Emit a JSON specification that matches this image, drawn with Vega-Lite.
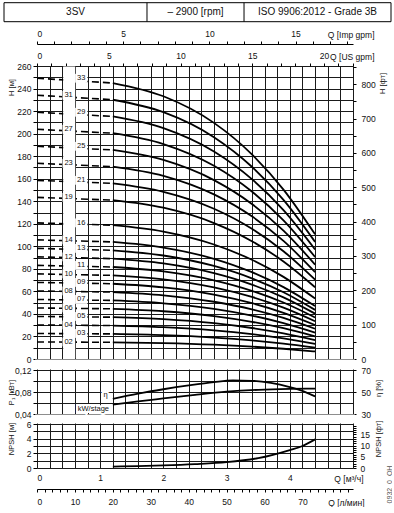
{
  "$schema": "https://vega.github.io/schema/vega-lite/v6.json",
  "padding": {"left": 3, "top": 2, "right": 0, "bottom": 0},
  "width": 316,
  "height": 402,
  "config": {
    "font": "Liberation Sans",
    "view": {"stroke": null},
    "axis": {"labelFont": "Liberation Sans", "titleFont": "Liberation Sans", "labelFontSize": 8.5, "titleFontSize": 8.5, "titleFontWeight": "normal", "labelColor": "#111", "titleColor": "#111", "domainColor": "#000", "tickColor": "#000", "gridColor": "#1a1a1a", "gridOpacity": 1, "gridWidth": 1},
    "text": {"font": "Liberation Sans"}
  },
  "datasets": {
    "solid": [
      {"s":"02","q":1.2,"h":14.84},{"s":"02","q":2.0,"h":14.13},{"s":"02","q":2.8,"h":12.70},{"s":"02","q":3.4,"h":11.01},{"s":"02","q":3.9,"h":9.11},{"s":"02","q":4.4,"h":6.70},
      {"s":"03","q":1.2,"h":22.26},{"s":"03","q":2.0,"h":21.19},{"s":"03","q":2.8,"h":19.05},{"s":"03","q":3.4,"h":16.51},{"s":"03","q":3.9,"h":13.66},{"s":"03","q":4.4,"h":10.06},
      {"s":"04","q":1.2,"h":29.68},{"s":"04","q":2.0,"h":28.26},{"s":"04","q":2.8,"h":25.40},{"s":"04","q":3.4,"h":22.01},{"s":"04","q":3.9,"h":18.22},{"s":"04","q":4.4,"h":13.41},
      {"s":"05","q":1.2,"h":37.10},{"s":"05","q":2.0,"h":35.32},{"s":"05","q":2.8,"h":31.75},{"s":"05","q":3.4,"h":27.52},{"s":"05","q":3.9,"h":22.77},{"s":"05","q":4.4,"h":16.76},
      {"s":"06","q":1.2,"h":44.53},{"s":"06","q":2.0,"h":42.39},{"s":"06","q":2.8,"h":38.10},{"s":"06","q":3.4,"h":33.02},{"s":"06","q":3.9,"h":27.33},{"s":"06","q":4.4,"h":20.11},
      {"s":"07","q":1.2,"h":51.95},{"s":"07","q":2.0,"h":49.45},{"s":"07","q":2.8,"h":44.45},{"s":"07","q":3.4,"h":38.52},{"s":"07","q":3.9,"h":31.88},{"s":"07","q":4.4,"h":23.47},
      {"s":"08","q":1.2,"h":59.37},{"s":"08","q":2.0,"h":56.52},{"s":"08","q":2.8,"h":50.80},{"s":"08","q":3.4,"h":44.03},{"s":"08","q":3.9,"h":36.44},{"s":"08","q":4.4,"h":26.82},
      {"s":"09","q":1.2,"h":66.79},{"s":"09","q":2.0,"h":63.58},{"s":"09","q":2.8,"h":57.15},{"s":"09","q":3.4,"h":49.53},{"s":"09","q":3.9,"h":40.99},{"s":"09","q":4.4,"h":30.17},
      {"s":"10","q":1.2,"h":74.21},{"s":"10","q":2.0,"h":70.65},{"s":"10","q":2.8,"h":63.50},{"s":"10","q":3.4,"h":55.03},{"s":"10","q":3.9,"h":45.55},{"s":"10","q":4.4,"h":33.52},
      {"s":"11","q":1.2,"h":81.63},{"s":"11","q":2.0,"h":77.71},{"s":"11","q":2.8,"h":69.85},{"s":"11","q":3.4,"h":60.54},{"s":"11","q":3.9,"h":50.10},{"s":"11","q":4.4,"h":36.87},
      {"s":"12","q":1.2,"h":89.05},{"s":"12","q":2.0,"h":84.77},{"s":"12","q":2.8,"h":76.19},{"s":"12","q":3.4,"h":66.04},{"s":"12","q":3.9,"h":54.66},{"s":"12","q":4.4,"h":40.23},
      {"s":"13","q":1.2,"h":96.47},{"s":"13","q":2.0,"h":91.84},{"s":"13","q":2.8,"h":82.54},{"s":"13","q":3.4,"h":71.54},{"s":"13","q":3.9,"h":59.21},{"s":"13","q":4.4,"h":43.58},
      {"s":"14","q":1.2,"h":103.89},{"s":"14","q":2.0,"h":98.90},{"s":"14","q":2.8,"h":88.89},{"s":"14","q":3.4,"h":77.04},{"s":"14","q":3.9,"h":63.77},{"s":"14","q":4.4,"h":46.93},
      {"s":"16","q":1.2,"h":118.73},{"s":"16","q":2.0,"h":113.03},{"s":"16","q":2.8,"h":101.59},{"s":"16","q":3.4,"h":88.05},{"s":"16","q":3.9,"h":72.88},{"s":"16","q":4.4,"h":53.64},
      {"s":"19","q":1.2,"h":141.00},{"s":"19","q":2.0,"h":134.23},{"s":"19","q":2.8,"h":120.64},{"s":"19","q":3.4,"h":104.56},{"s":"19","q":3.9,"h":86.54},{"s":"19","q":4.4,"h":63.69},
      {"s":"21","q":1.2,"h":155.84},{"s":"21","q":2.0,"h":148.36},{"s":"21","q":2.8,"h":133.34},{"s":"21","q":3.4,"h":115.57},{"s":"21","q":3.9,"h":95.65},{"s":"21","q":4.4,"h":70.40},
      {"s":"23","q":1.2,"h":170.68},{"s":"23","q":2.0,"h":162.48},{"s":"23","q":2.8,"h":146.04},{"s":"23","q":3.4,"h":126.57},{"s":"23","q":3.9,"h":104.76},{"s":"23","q":4.4,"h":77.10},
      {"s":"25","q":1.2,"h":185.52},{"s":"25","q":2.0,"h":176.61},{"s":"25","q":2.8,"h":158.74},{"s":"25","q":3.4,"h":137.58},{"s":"25","q":3.9,"h":113.87},{"s":"25","q":4.4,"h":83.81},
      {"s":"27","q":1.2,"h":200.36},{"s":"27","q":2.0,"h":190.74},{"s":"27","q":2.8,"h":171.44},{"s":"27","q":3.4,"h":148.59},{"s":"27","q":3.9,"h":122.98},{"s":"27","q":4.4,"h":90.51},
      {"s":"29","q":1.2,"h":215.21},{"s":"29","q":2.0,"h":204.87},{"s":"29","q":2.8,"h":184.14},{"s":"29","q":3.4,"h":159.59},{"s":"29","q":3.9,"h":132.09},{"s":"29","q":4.4,"h":97.21},
      {"s":"31","q":1.2,"h":230.05},{"s":"31","q":2.0,"h":219.00},{"s":"31","q":2.8,"h":196.84},{"s":"31","q":3.4,"h":170.60},{"s":"31","q":3.9,"h":141.20},{"s":"31","q":4.4,"h":103.92},
      {"s":"33","q":1.2,"h":244.89},{"s":"33","q":2.0,"h":233.13},{"s":"33","q":2.8,"h":209.53},{"s":"33","q":3.4,"h":181.61},{"s":"33","q":3.9,"h":150.31},{"s":"33","q":4.4,"h":110.62}
    ],
    "dash": [
      {"s":"02","q":0,"h":15.1},{"s":"02","q":1.2,"h":14.84},
      {"s":"03","q":0,"h":22.65},{"s":"03","q":1.2,"h":22.26},
      {"s":"04","q":0,"h":30.2},{"s":"04","q":1.2,"h":29.68},
      {"s":"05","q":0,"h":37.75},{"s":"05","q":1.2,"h":37.10},
      {"s":"06","q":0,"h":45.3},{"s":"06","q":1.2,"h":44.53},
      {"s":"07","q":0,"h":52.85},{"s":"07","q":1.2,"h":51.95},
      {"s":"08","q":0,"h":60.4},{"s":"08","q":1.2,"h":59.37},
      {"s":"09","q":0,"h":67.95},{"s":"09","q":1.2,"h":66.79},
      {"s":"10","q":0,"h":75.5},{"s":"10","q":1.2,"h":74.21},
      {"s":"11","q":0,"h":83.05},{"s":"11","q":1.2,"h":81.63},
      {"s":"12","q":0,"h":90.6},{"s":"12","q":1.2,"h":89.05},
      {"s":"13","q":0,"h":98.15},{"s":"13","q":1.2,"h":96.47},
      {"s":"14","q":0,"h":105.7},{"s":"14","q":1.2,"h":103.89},
      {"s":"16","q":0,"h":120.8},{"s":"16","q":1.2,"h":118.73},
      {"s":"19","q":0,"h":143.45},{"s":"19","q":1.2,"h":141.00},
      {"s":"21","q":0,"h":158.55},{"s":"21","q":1.2,"h":155.84},
      {"s":"23","q":0,"h":173.65},{"s":"23","q":1.2,"h":170.68},
      {"s":"25","q":0,"h":188.75},{"s":"25","q":1.2,"h":185.52},
      {"s":"27","q":0,"h":203.85},{"s":"27","q":1.2,"h":200.36},
      {"s":"29","q":0,"h":218.95},{"s":"29","q":1.2,"h":215.21},
      {"s":"31","q":0,"h":234.05},{"s":"31","q":1.2,"h":230.05},
      {"s":"33","q":0,"h":249.15},{"s":"33","q":1.2,"h":244.89}
    ],
    "lbl": [
      {"s":"33","q":0.7,"h":249.15},{"s":"31","q":0.5,"h":234.05},{"s":"29","q":0.7,"h":218.95},{"s":"27","q":0.5,"h":203.85},
      {"s":"25","q":0.7,"h":188.75},{"s":"23","q":0.5,"h":173.65},{"s":"21","q":0.7,"h":158.55},{"s":"19","q":0.5,"h":143.45},
      {"s":"16","q":0.7,"h":120.8},{"s":"14","q":0.5,"h":105.7},{"s":"13","q":0.7,"h":98.15},{"s":"12","q":0.5,"h":90.6},
      {"s":"11","q":0.7,"h":83.05},{"s":"10","q":0.5,"h":75.5},{"s":"09","q":0.7,"h":67.95},{"s":"08","q":0.5,"h":60.4},
      {"s":"07","q":0.7,"h":52.85},{"s":"06","q":0.5,"h":45.3},{"s":"05","q":0.7,"h":37.75},{"s":"04","q":0.5,"h":30.2},
      {"s":"03","q":0.7,"h":22.65},{"s":"02","q":0.5,"h":15.1}
    ],
    "kw": [
      {"q":1.2,"p":0.0572},{"q":1.6,"p":0.0630},{"q":2.0,"p":0.0683},{"q":2.5,"p":0.0748},{"q":3.0,"p":0.0805},{"q":3.5,"p":0.0840},{"q":4.0,"p":0.0857},{"q":4.4,"p":0.0862}
    ],
    "eta": [
      {"q":1.2,"e":43.8},{"q":1.6,"e":48.5},{"q":2.0,"e":52.5},{"q":2.4,"e":56.0},{"q":2.8,"e":59.0},{"q":3.1,"e":60.5},{"q":3.4,"e":60.2},{"q":3.7,"e":58.3},{"q":4.0,"e":54.5},{"q":4.2,"e":51.0},{"q":4.4,"e":46.0}
    ],
    "plbl": [
      {"t":"η","q":1.12,"p":0.0739},{"t":"kW/stage","q":1.14,"p":0.0491}
    ],
    "npsh": [
      {"q":1.2,"n":0.2},{"q":1.6,"n":0.25},{"q":2.0,"n":0.35},{"q":2.5,"n":0.53},{"q":3.0,"n":0.8},{"q":3.5,"n":1.35},{"q":4.0,"n":2.45},{"q":4.2,"n":3.0},{"q":4.4,"n":3.9}
    ],
    "head": [
      {"t":"3SV"},{"t":"– 2900 [rpm]"},{"t":"ISO 9906:2012 - Grade 3B"}
    ]
  },
  "resolve": {"scale": {"x": "independent", "y": "independent"}, "axis": {"x": "independent", "y": "independent"}},
  "layer": [
    {
      "data": {"name": "npsh"},
      "mark": {"type": "line", "opacity": 0},
      "encoding": {
        "x": {"field": "q", "type": "quantitative", "scale": {"domain": [0, 5], "nice": false, "zero": false},
              "axis": {"orient": "bottom", "values": [0,0.2,0.4,0.6,0.8,1,1.2,1.4,1.6,1.8,2,2.2,2.4,2.6,2.8,3,3.2,3.4,3.6,3.8,4,4.2,4.4,4.6,4.8,5], "labelExpr": "datum.value % 1 === 0 && datum.value < 5 ? format(datum.value, 'd') : ''", "ticks": false, "labelPadding": 5, "domain": false, "grid": true, "title": "Q [м³/ч]", "titleAlign": "right", "titleBaseline": "middle", "titleX": 326, "titleY": 10}},
        "y": {"field": "n", "type": "quantitative", "scale": {"domain": [0, 6], "nice": false, "zero": false}, "axis": null}
      }
    },
    {
      "data": {"name": "solid"},
      "mark": {"type": "line", "color": "#000", "strokeWidth": 1.8, "interpolate": "monotone"},
      "encoding": {
        "x": {"field": "q", "type": "quantitative", "scale": {"domain": [0, 5], "nice": false, "zero": false}, "axis": null},
        "y": {"field": "h", "type": "quantitative", "scale": {"domain": [0, 260], "nice": false, "zero": false, "range": [293, 0]},
              "axis": {"orient": "left", "values": [0,10,20,30,40,50,60,70,80,90,100,110,120,130,140,150,160,170,180,190,200,210,220,230,240,250,260], "labelExpr": "datum.value % 20 === 0 ? format(datum.value, 'd') : ''", "tickSize": 4, "labelPadding": 2, "domain": false, "grid": true, "title": "H [м]", "titleFontSize": 7.5, "titleY": 21, "titlePadding": 2, "minExtent": 20, "maxExtent": 20}},
        "detail": {"field": "s"}
      }
    },
    {
      "data": {"name": "dash"},
      "mark": {"type": "line", "color": "#000", "strokeWidth": 1.6, "strokeDash": [7, 4]},
      "encoding": {
        "x": {"field": "q", "type": "quantitative", "scale": {"domain": [0, 5], "nice": false, "zero": false}, "axis": null},
        "y": {"field": "h", "type": "quantitative", "scale": {"domain": [0, 260], "nice": false, "zero": false, "range": [293, 0]}, "axis": null},
        "detail": {"field": "s"}
      }
    },
    {
      "data": {"values": [{}]},
      "mark": {"type": "rect", "color": "#fff"},
      "encoding": {
        "x": {"datum": 0.415, "type": "quantitative", "scale": {"domain": [0, 5], "nice": false, "zero": false}, "axis": null},
        "x2": {"datum": 0.605},
        "y": {"datum": 0.5, "type": "quantitative", "scale": {"domain": [0, 260], "nice": false, "zero": false, "range": [293, 0]}, "axis": null},
        "y2": {"datum": 259.5}
      }
    },
    {
      "data": {"values": [{}]},
      "mark": {"type": "rect", "color": "#fff"},
      "encoding": {
        "x": {"datum": -0.03, "type": "quantitative", "scale": {"domain": [0, 5], "nice": false, "zero": false}, "axis": null},
        "x2": {"datum": 5.03},
        "y": {"datum": 0.1209, "type": "quantitative", "scale": {"domain": [0.04, 0.12], "nice": false, "zero": false, "range": [348, 304]}, "axis": null},
        "y2": {"datum": 0.1391}
      }
    },
    {
      "data": {"values": [{}]},
      "mark": {"type": "rect", "color": "#fff"},
      "encoding": {
        "x": {"datum": -0.03, "type": "quantitative", "scale": {"domain": [0, 5], "nice": false, "zero": false}, "axis": null},
        "x2": {"datum": 5.03},
        "y": {"datum": 0.0227, "type": "quantitative", "scale": {"domain": [0.04, 0.12], "nice": false, "zero": false, "range": [348, 304]}, "axis": null},
        "y2": {"datum": 0.0391}
      }
    },
    {
      "data": {"name": "lbl"},
      "mark": {"type": "point", "shape": "M-1,-0.72H1V0.72H-1Z", "filled": true, "color": "#fff", "opacity": 1, "strokeWidth": 0, "size": 150},
      "encoding": {
        "x": {"field": "q", "type": "quantitative", "scale": {"domain": [0, 5], "nice": false, "zero": false}, "axis": null},
        "y": {"field": "h", "type": "quantitative", "scale": {"domain": [0, 260], "nice": false, "zero": false, "range": [293, 0]}, "axis": null}
      }
    },
    {
      "data": {"name": "lbl"},
      "mark": {"type": "text", "fontSize": 7.5, "color": "#111"},
      "encoding": {
        "x": {"field": "q", "type": "quantitative", "scale": {"domain": [0, 5], "nice": false, "zero": false}, "axis": null},
        "y": {"field": "h", "type": "quantitative", "scale": {"domain": [0, 260], "nice": false, "zero": false, "range": [293, 0]}, "axis": null},
        "text": {"field": "s"}
      }
    },
    {
      "data": {"name": "solid"},
      "mark": {"type": "line", "opacity": 0},
      "encoding": {
        "x": {"field": "q", "type": "quantitative", "scale": {"domain": [0, 5], "nice": false, "zero": false},
              "axis": {"orient": "top", "values": [0,0.2271247,0.4542494,0.6813741,0.9084988,1.1356235,1.3627482,1.5898729,1.8169976,2.0441223,2.271247,2.4983717,2.7254964,2.9526211,3.1797458,3.4068705,3.6339952,3.8611199,4.0882446,4.3153693,4.542494,4.7696187,4.9967434], "labelExpr": "round(datum.value / 0.2271247) % 5 === 0 ? format(round(datum.value / 0.2271247), 'd') : ''", "tickSize": 3, "labelPadding": 3, "domain": false, "grid": false, "title": "Q [US gpm]", "titleAlign": "right", "titleBaseline": "middle", "titleX": 337, "titleY": -10}},
        "y": {"field": "h", "type": "quantitative", "scale": {"domain": [0, 260], "nice": false, "zero": false, "range": [293, 0]},
              "axis": {"orient": "right", "values": [0,15.24,30.48,45.72,60.96,76.2,91.44,106.68,121.92,137.16,152.4,167.64,182.88,198.12,213.36,228.6,243.84,259.08], "labelExpr": "round(datum.value / 15.24) % 2 === 0 ? format(round(datum.value / 15.24) * 50, 'd') : ''", "tickSize": 3, "labelPadding": 5, "domain": false, "grid": false, "title": "H [фт]", "titleFontSize": 7.5, "titleAngle": 270, "titleBaseline": "top", "titleY": 17, "titlePadding": 3, "minExtent": 22, "maxExtent": 22}},
        "detail": {"field": "s"}
      }
    },
    {
      "data": {"name": "dash"},
      "mark": {"type": "line", "opacity": 0},
      "encoding": {
        "x": {"field": "q", "type": "quantitative", "scale": {"domain": [0, 5], "nice": false, "zero": false},
              "axis": {"orient": "top", "offset": 22, "values": [0,0.2727654,0.5455308,0.8182962,1.0910616,1.363827,1.6365924,1.9093578,2.1821232,2.4548886,2.727654,3.0004194,3.2731848,3.5459502,3.8187156,4.091481,4.3642464,4.6370118,4.9097772], "labelExpr": "round(datum.value / 0.2727654) % 5 === 0 ? format(round(datum.value / 0.2727654), 'd') : ''", "tickSize": 3, "labelPadding": 3, "domain": true, "grid": false, "title": "Q [Imp gpm]", "titleAlign": "right", "titleBaseline": "middle", "titleX": 337, "titleY": -10}},
        "y": {"field": "h", "type": "quantitative", "scale": {"domain": [0, 260], "nice": false, "zero": false, "range": [293, 0]}, "axis": null},
        "detail": {"field": "s"}
      }
    },
    {
      "data": {"name": "kw"},
      "mark": {"type": "line", "color": "#000", "strokeWidth": 1.8, "interpolate": "monotone"},
      "encoding": {
        "x": {"field": "q", "type": "quantitative", "scale": {"domain": [0, 5], "nice": false, "zero": false}, "axis": null},
        "y": {"field": "p", "type": "quantitative", "scale": {"domain": [0.04, 0.12], "nice": false, "zero": false, "range": [348, 304]},
              "axis": {"orient": "left", "values": [0.04,0.06,0.08,0.1,0.12], "labelExpr": "abs(datum.value - 0.06) < 0.001 || abs(datum.value - 0.1) < 0.001 ? '' : replace(format(datum.value, '.2f'), '.', ',')", "tickSize": 4, "labelPadding": 2, "domain": false, "grid": true, "title": "P₁ [кВт]", "titleFontSize": 7.5, "titlePadding": 2, "minExtent": 20, "maxExtent": 20}}
      }
    },
    {
      "data": {"name": "eta"},
      "mark": {"type": "line", "color": "#000", "strokeWidth": 1.8, "interpolate": "monotone"},
      "encoding": {
        "x": {"field": "q", "type": "quantitative", "scale": {"domain": [0, 5], "nice": false, "zero": false}, "axis": null},
        "y": {"field": "e", "type": "quantitative", "scale": {"domain": [30, 70], "nice": false, "zero": false, "range": [348, 304]},
              "axis": {"orient": "right", "values": [30, 50, 70], "tickSize": 3, "labelPadding": 5, "domain": false, "grid": false, "title": "η [%]", "titleFontSize": 7.5, "titleAngle": 270, "titleBaseline": "top", "titleY": 322, "titlePadding": 4, "minExtent": 17, "maxExtent": 17}}
      }
    },
    {
      "data": {"name": "plbl"},
      "mark": {"type": "text", "align": "right", "fontSize": 7.5, "color": "#fff", "stroke": "#fff", "strokeWidth": 4},
      "encoding": {
        "x": {"field": "q", "type": "quantitative", "scale": {"domain": [0, 5], "nice": false, "zero": false}, "axis": null},
        "y": {"field": "p", "type": "quantitative", "scale": {"domain": [0.04, 0.12], "nice": false, "zero": false, "range": [348, 304]}, "axis": null},
        "text": {"field": "t"}
      }
    },
    {
      "data": {"name": "plbl"},
      "mark": {"type": "text", "align": "right", "fontSize": 7.5, "color": "#111"},
      "encoding": {
        "x": {"field": "q", "type": "quantitative", "scale": {"domain": [0, 5], "nice": false, "zero": false}, "axis": null},
        "y": {"field": "p", "type": "quantitative", "scale": {"domain": [0.04, 0.12], "nice": false, "zero": false, "range": [348, 304]}, "axis": null},
        "text": {"field": "t"}
      }
    },
    {
      "data": {"name": "npsh"},
      "mark": {"type": "line", "color": "#000", "strokeWidth": 1.8, "interpolate": "monotone"},
      "encoding": {
        "x": {"field": "q", "type": "quantitative", "scale": {"domain": [0, 5], "nice": false, "zero": false},
              "axis": {"orient": "bottom", "offset": 21, "values": [0,0.12,0.24,0.36,0.48,0.6,0.72,0.84,0.96,1.08,1.2,1.32,1.44,1.56,1.68,1.8,1.92,2.04,2.16,2.28,2.4,2.52,2.64,2.76,2.88,3,3.12,3.24,3.36,3.48,3.6,3.72,3.84,3.96,4.08,4.2,4.32,4.44,4.56,4.68,4.8,4.92], "labelExpr": "round(datum.value / 0.12) % 5 === 0 && round(datum.value / 0.12) < 40 ? format(round(datum.value / 0.12) * 2, 'd') : ''", "tickSize": 3, "labelPadding": 5, "domain": true, "grid": false, "title": "Q [л/мин]", "titleAlign": "right", "titleBaseline": "middle", "titleX": 327, "titleY": 13}},
        "y": {"field": "n", "type": "quantitative", "scale": {"domain": [0, 6], "nice": false, "zero": false, "range": [402, 358]},
              "axis": {"orient": "left", "values": [0,1,2,3,4,5,6], "labelExpr": "datum.value % 2 === 0 ? format(datum.value, 'd') : ''", "tickSize": 4, "labelPadding": 2, "domain": false, "grid": true, "title": "NPSH [м]", "titleFontSize": 7.5, "titleY": 372.5, "titlePadding": 2, "minExtent": 20, "maxExtent": 20}}
      }
    },
    {
      "data": {"name": "npsh"},
      "mark": {"type": "line", "opacity": 0},
      "encoding": {
        "x": {"field": "q", "type": "quantitative", "scale": {"domain": [0, 5], "nice": false, "zero": false}, "axis": null},
        "y": {"field": "n", "type": "quantitative", "scale": {"domain": [0, 6], "nice": false, "zero": false, "range": [402, 358]},
              "axis": {"orient": "right", "values": [0,0.3048,0.6096,0.9144,1.2192,1.524,1.8288,2.1336,2.4384,2.7432,3.048,3.3528,3.6576,3.9624,4.2672,4.572,4.8768,5.1816,5.4864,5.7912], "labelExpr": "round(datum.value / 0.3048) % 5 === 0 ? format(round(datum.value / 0.3048), 'd') : ''", "tickSize": 3, "labelPadding": 4, "domain": false, "grid": false, "title": "NPSH [фт]", "titleFontSize": 7.5, "titleAngle": 270, "titleBaseline": "top", "titleY": 372.5, "titlePadding": 4, "minExtent": 17, "maxExtent": 17}}
      }
    },
    {
      "data": {"name": "npsh"},
      "mark": {"type": "line", "opacity": 0},
      "encoding": {
        "x": {"field": "q", "type": "quantitative", "scale": {"domain": [0, 5], "nice": false, "zero": false}, "axis": null},
        "y": {"field": "n", "type": "quantitative", "scale": {"domain": [0, 6], "nice": false, "zero": false, "range": [402, 358]},
              "axis": {"orient": "right", "labels": false, "ticks": false, "domain": false, "grid": false, "title": "0932_0_OH", "titleFontSize": 7, "titleColor": "#555", "titleAngle": 270, "titleBaseline": "top", "titleAlign": "center", "titleX": 32, "titleY": 418}}
      }
    },
    {
      "data": {"values": [{}]},
      "mark": {"type": "rect", "filled": false, "stroke": "#000", "strokeWidth": 1},
      "encoding": {
        "x": {"datum": 0, "type": "quantitative", "scale": {"domain": [0, 1], "range": [-33, 354]}, "axis": null},
        "x2": {"datum": 1},
        "y": {"datum": 0, "type": "quantitative", "scale": {"domain": [0, 1], "range": [-44.3, -63.3]}, "axis": null},
        "y2": {"datum": 1}
      }
    },
    {
      "data": {"values": [{}]},
      "mark": {"type": "rule", "color": "#000", "strokeWidth": 1},
      "encoding": {
        "x": {"datum": 0.3695, "type": "quantitative", "scale": {"domain": [0, 1], "range": [-33, 354]}, "axis": null},
        "y": {"datum": 0, "type": "quantitative", "scale": {"domain": [0, 1], "range": [-44.3, -63.3]}, "axis": null},
        "y2": {"datum": 1}
      }
    },
    {
      "data": {"values": [{}]},
      "mark": {"type": "rule", "color": "#000", "strokeWidth": 1},
      "encoding": {
        "x": {"datum": 0.6202, "type": "quantitative", "scale": {"domain": [0, 1], "range": [-33, 354]}, "axis": null},
        "y": {"datum": 0, "type": "quantitative", "scale": {"domain": [0, 1], "range": [-44.3, -63.3]}, "axis": null},
        "y2": {"datum": 1}
      }
    },
    {
      "data": {"name": "head"},
      "transform": [{"filter": "datum.t === '3SV'"}],
      "mark": {"type": "text", "fontSize": 10, "color": "#111"},
      "encoding": {
        "text": {"field": "t"},
        "x": {"datum": 0.1848, "type": "quantitative", "scale": {"domain": [0, 1], "range": [-33, 354]}, "axis": null},
        "y": {"datum": 0.5, "type": "quantitative", "scale": {"domain": [0, 1], "range": [-44.3, -63.3]}, "axis": null}
      }
    },
    {
      "data": {"name": "head"},
      "transform": [{"filter": "datum.t === '– 2900 [rpm]'"}],
      "mark": {"type": "text", "fontSize": 10, "color": "#111"},
      "encoding": {
        "text": {"field": "t"},
        "x": {"datum": 0.4948, "type": "quantitative", "scale": {"domain": [0, 1], "range": [-33, 354]}, "axis": null},
        "y": {"datum": 0.5, "type": "quantitative", "scale": {"domain": [0, 1], "range": [-44.3, -63.3]}, "axis": null}
      }
    },
    {
      "data": {"name": "head"},
      "transform": [{"filter": "datum.t === 'ISO 9906:2012 - Grade 3B'"}],
      "mark": {"type": "text", "fontSize": 10, "color": "#111"},
      "encoding": {
        "text": {"field": "t"},
        "x": {"datum": 0.8101, "type": "quantitative", "scale": {"domain": [0, 1], "range": [-33, 354]}, "axis": null},
        "y": {"datum": 0.5, "type": "quantitative", "scale": {"domain": [0, 1], "range": [-44.3, -63.3]}, "axis": null}
      }
    }
  ]
}
